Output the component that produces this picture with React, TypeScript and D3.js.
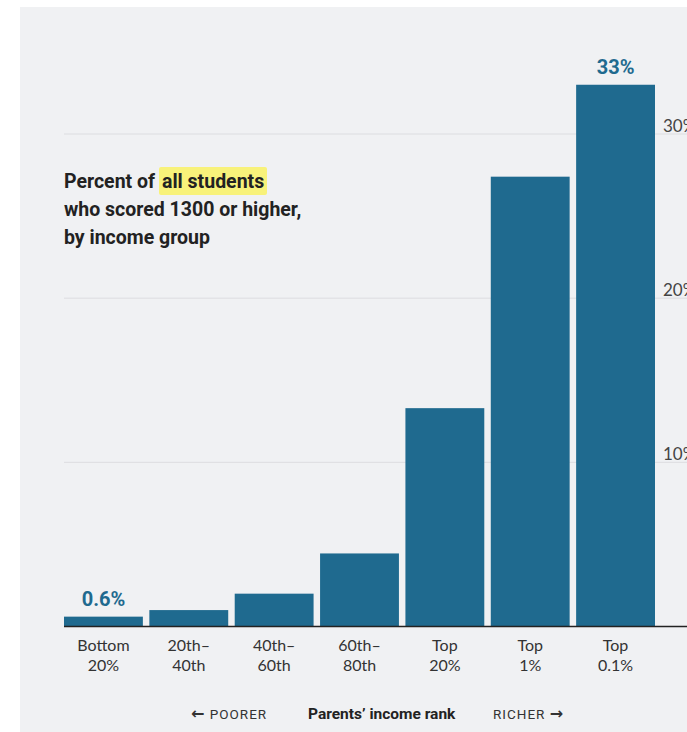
import React from "react";
import * as d3 from "d3";

const categories = ["b", "q2", "q3", "q4", "t20", "t1", "t01"];
const labelLine1 = ["Bottom", "20th–", "40th–", "60th–", "Top", "Top", "Top"];
const labelLine2 = ["20%", "40th", "60th", "80th", "20%", "1%", "0.1%"];
const values = [0.6, 1.0, 2.0, 4.45, 13.3, 27.4, 33.0];
const valueLabels = ["0.6%", "", "", "", "", "", "33%"];
const gridTicks = [10, 20, 30];

const W = 687;
const H = 732;

export default function App() {
  const x = d3.scaleBand<string>().domain(categories).range([64, 655]).paddingInner(0.076).paddingOuter(0);
  const y = d3.scaleLinear().domain([0, 30]).range([626.5, 134]);
  const barColor = "#1f6a8f";
  const titleFont = "Roboto, 'Liberation Sans', sans-serif";
  const labelFont = "Lato, 'Liberation Sans', sans-serif";

  return (
    <svg width={W} height={H} style={{ position: "absolute", left: 0, top: 0 }}>
      <rect x={0} y={0} width={W} height={H} fill="#ffffff" />
      <rect x={20} y={7} width={W - 20} height={H - 7} fill="#f0f1f3" />
      {gridTicks.map((t) => (
        <g key={t}>
          <line x1={64} x2={W} y1={y(t)} y2={y(t)} stroke="#dcdde0" strokeWidth={1} />
          <text x={663} y={y(t) - 2} fontFamily={labelFont} fontSize={17} fill="#444">
            {t}%
          </text>
        </g>
      ))}
      {categories.map((c, i) => (
        <rect key={c} x={x(c)} y={y(values[i])} width={x.bandwidth()} height={y(0) - y(values[i])} fill={barColor} />
      ))}
      <line x1={64} x2={W} y1={y(0)} y2={y(0)} stroke="#222" strokeWidth={1.5} />
      {categories.map((c, i) =>
        valueLabels[i] ? (
          <text
            key={"v" + c}
            x={(x(c) as number) + x.bandwidth() / 2}
            y={y(values[i]) - 11}
            textAnchor="middle"
            fontFamily={titleFont}
            fontWeight={700}
            fontSize={20}
            fill={barColor}
          >
            {valueLabels[i]}
          </text>
        ) : null
      )}
      {categories.map((c, i) => (
        <text
          key={"l" + c}
          x={(x(c) as number) + x.bandwidth() / 2}
          textAnchor="middle"
          fontFamily={labelFont}
          fontSize={16}
          fill="#333"
        >
          <tspan x={(x(c) as number) + x.bandwidth() / 2} y={651}>{labelLine1[i]}</tspan>
          <tspan x={(x(c) as number) + x.bandwidth() / 2} y={671}>{labelLine2[i]}</tspan>
        </text>
      ))}
      <rect x={159} y={167} width={108} height={28} rx={2} fill="#f8f27a" />
      <g fontFamily={titleFont} fontWeight={700} fontSize={19.5} fill="#222">
        <text x={64} y={188}>
          Percent of
        </text>
        <text x={162} y={188}>all students</text>
        <text x={64} y={216}>who scored 1300 or higher,</text>
        <text x={64} y={244}>by income group</text>
      </g>
      <text x={191} y={719} fontFamily={titleFont} fontSize={13.5} letterSpacing={1} fill="#333">
        <tspan fontWeight={900} fontSize={16} fontFamily="'DejaVu Sans', sans-serif">←</tspan> POORER
      </text>
      <text x={308} y={719} fontFamily={titleFont} fontWeight={700} fontSize={15.5} fill="#222">
        Parents’ income rank
      </text>
      <text x={493} y={719} fontFamily={titleFont} fontSize={13.5} letterSpacing={1} fill="#333">
        RICHER <tspan fontWeight={900} fontSize={16} fontFamily="'DejaVu Sans', sans-serif">→</tspan>
      </text>
    </svg>
  );
}
